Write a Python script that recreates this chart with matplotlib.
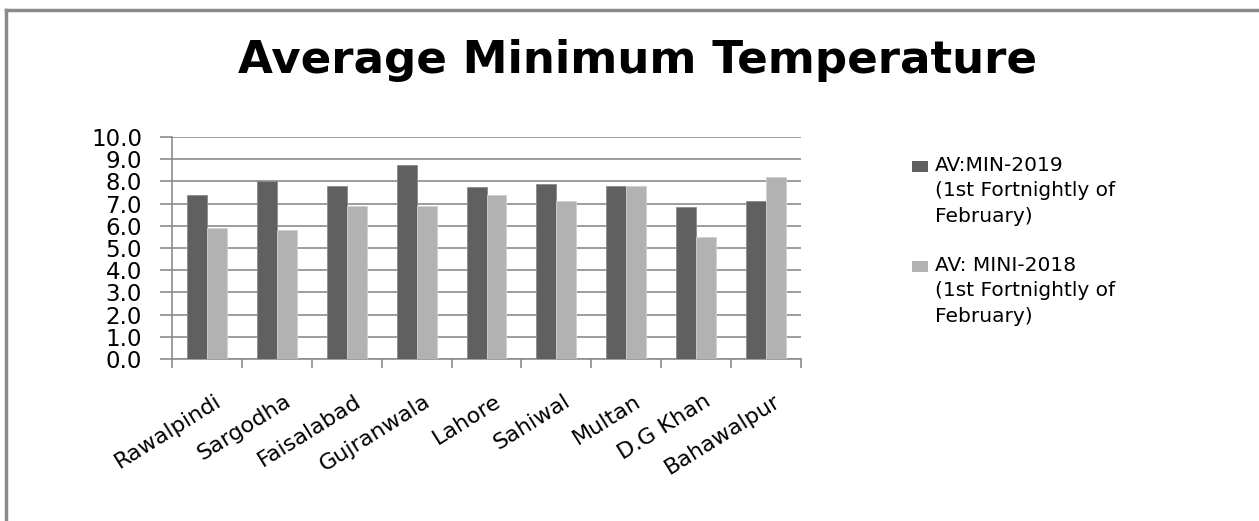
import matplotlib.pyplot as plt
import numpy as np
from matplotlib.lines import Line2D
from matplotlib.patches import Rectangle
from matplotlib.transforms import ScaledTranslation

plt.rcParams['font.family'] = ['DejaVu Sans']

cities = ['Rawalpindi', 'Sargodha', 'Faisalabad', 'Gujranwala', 'Lahore',
          'Sahiwal', 'Multan', 'D.G Khan', 'Bahawalpur']
min_2019 = [7.4, 8.0, 7.8, 8.75, 7.75, 7.9, 7.8, 6.85, 7.1]
min_2018 = [5.9, 5.8, 6.9, 6.9, 7.4, 7.1, 7.8, 5.5, 8.2]
label_2019 = 'AV:MIN-2019\n(1st Fortnightly of\nFebruary)'
label_2018 = 'AV: MINI-2018\n(1st Fortnightly of\nFebruary)'

W, H = 1259, 521
fig = plt.figure(figsize=(W / 100, H / 100), dpi=100)
ax = fig.add_axes([172 / W, 1 - 359 / H, (801 - 172) / W, (359 - 137) / H])

x = np.arange(len(cities))
w = 0.286
b1 = ax.bar(x - w / 2, min_2019, w, color='#606060', edgecolor='#8a8a8a', linewidth=0.6,
            zorder=3)
b2 = ax.bar(x + w / 2, min_2018, w, color='#b2b2b2', edgecolor='#d0d0d0', linewidth=0.6,
            zorder=3)

ax.set_xlim(-0.5, len(cities) - 0.5)
ax.set_ylim(0, 10)
yt = np.arange(0, 10.1, 1)
ax.set_yticks(yt)
ax.set_yticklabels([f'{v:.1f}' for v in yt], fontsize=16.5)
ax.yaxis.grid(True, color='#8c8c8c', linewidth=1.2, zorder=0)
ax.tick_params(axis='y', length=8.6, color='#8c8c8c', width=1.2, pad=13)

ax.set_xticks(x)
ax.set_xticklabels(cities, rotation=32, ha='right', va='center',
                   rotation_mode='anchor', fontsize=16)
ax.set_xticks(np.arange(-0.5, len(cities), 1), minor=True)
ax.tick_params(axis='x', which='major', length=0, pad=29)
ax.tick_params(axis='x', which='minor', length=6.5, color='#8c8c8c', width=1.2)
shift = ScaledTranslation(9 / 72, 0, fig.dpi_scale_trans)
for lab in ax.get_xticklabels():
    lab.set_transform(lab.get_transform() + shift)

for s in ['top', 'right']:
    ax.spines[s].set_visible(False)
for s in ['left', 'bottom']:
    ax.spines[s].set_color('#8c8c8c')
    ax.spines[s].set_linewidth(1.2)

fig.text(638 / W, 1 - 73 / H, 'Average Minimum Temperature', ha='center',
         va='baseline', fontsize=32.5, fontweight='bold')

# legend: marker square next to first line of each entry
for bars, label, ytop in [(b1, label_2019, 156), (b2, label_2018, 256)]:
    fc = bars[0].get_facecolor()
    fig.add_artist(Rectangle((912 / W, 1 - (ytop + 16) / H), 16 / W, 11 / H,
                             transform=fig.transFigure, facecolor=fc, edgecolor='none'))
    fig.text(935 / W, 1 - ytop / H, label, ha='left', va='top', fontsize=14.5,
             linespacing=1.42)

# chart frame (left and top edges)
fig.add_artist(Line2D([6 / W, 6 / W], [0, 1 - 10 / H], color='#8a8a8a', linewidth=2.5))
fig.add_artist(Line2D([6 / W, 1], [1 - 10 / H, 1 - 10 / H], color='#8a8a8a', linewidth=2.5))

fig.savefig('out.png', dpi=100)
